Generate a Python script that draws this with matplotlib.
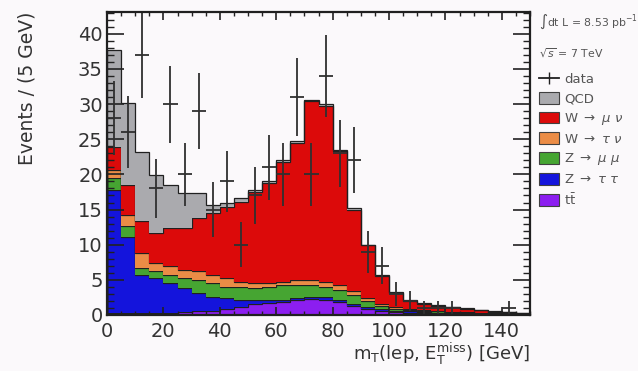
import numpy as np
import matplotlib.pyplot as plt
from matplotlib.patches import Patch
from matplotlib.lines import Line2D
from matplotlib.ticker import MultipleLocator

# 5 GeV bins from 0 to 150
edges = np.arange(0, 155, 5)
centers = edges[:-1] + 2.5

# per-process contributions
ttbar = [0.3, 0.3, 0.3, 0.3, 0.3, 0.4, 0.5, 0.6, 0.8, 1.2, 1.5, 1.7, 1.9, 2.1, 2.3,
         2.2, 1.8, 1.3, 0.9, 0.6, 0.4, 0.35, 0.3, 0.25, 0.2, 0.15, 0.1, 0.1, 0.08, 0.05]
ztautau = [17.5, 10.8, 5.4, 4.9, 4.2, 3.4, 2.6, 2.0, 1.6, 0.9, 0.6, 0.4, 0.3, 0.3, 0.3,
           0.3, 0.3, 0.3, 0.2, 0.2, 0.2, 0.15, 0.1, 0.1, 0.1, 0.1, 0.1, 0.05, 0.04, 0.05]
zmumu = [1.7, 1.5, 1.0, 1.0, 1.2, 1.4, 1.9, 1.9, 1.6, 1.9, 1.8, 1.9, 2.1, 1.9, 1.7,
         1.5, 1.5, 1.3, 0.9, 0.5, 0.3, 0.2, 0.15, 0.15, 0.1, 0.1, 0.1, 0.1, 0.08, 0.05]
wtaunu = [1.1, 1.6, 2.1, 1.2, 1.2, 1.2, 1.2, 1.2, 1.2, 0.7, 0.6, 0.5, 0.4, 0.7, 0.7,
          0.7, 0.6, 0.5, 0.4, 0.3, 0.2, 0.1, 0.1, 0.05, 0.05, 0.05, 0.05, 0.05, 0.02, 0.03]
wmunu = [3.3, 4.3, 4.5, 4.3, 5.5, 6.0, 7.6, 8.8, 10.2, 11.4, 13.0, 14.3, 17.1, 19.5, 25.4,
         25.1, 19.1, 11.6, 7.5, 4.0, 2.1, 1.2, 0.95, 0.8, 0.7, 0.5, 0.3, 0.18, 0.16, 0.1]
qcd = [13.8, 11.6, 9.9, 8.2, 6.1, 4.9, 3.5, 1.1, 0.5, 0.5, 0.3, 0.2, 0.2, 0.2, 0.2,
       0.2, 0.2, 0.2, 0.1, 0.1, 0.1, 0.1, 0.1, 0.05, 0.05, 0.05, 0.05, 0.02, 0.02, 0.02]

data = [28, 26, 37, 18, 30, 20, 29, 15, 19, 10, 17, 21, 20, 31, 20,
        34, 23, 22, 9, 7, 3, 2, 1, 1, 1, 0, 0, 0, 1, 0]

# stacking order bottom -> top
layers = [ttbar, ztautau, zmumu, wtaunu, wmunu, qcd]
colors = ['#8c1ef0', '#1414dc', '#46a532', '#eb8c46', '#dc0a0a', '#aaaaae']
labels = ['QCD', r'W $\rightarrow$ $\mu$ $\nu$', r'W $\rightarrow$ $\tau$ $\nu$',
          r'Z $\rightarrow$ $\mu$ $\mu$', r'Z $\rightarrow$ $\tau$ $\tau$', r't$\bar{\rm t}$']

fig = plt.figure(figsize=(6.38, 3.71), dpi=100, facecolor='#fbf9fb')
ax = fig.add_axes([107/638, 1-315/371, 423/638, 303/371])
ax.set_facecolor('#fbf9fb')

bottom = np.zeros(len(centers))
for vals, col in zip(layers, colors):
    top = bottom + np.array(vals)
    ax.stairs(top, edges, baseline=bottom, fill=True, color=col, lw=0)
    ax.stairs(top, edges, color='#202020', lw=0.9)
    bottom = top

d = np.array(data, dtype=float)
m = d > 0
ax.errorbar(centers[m], d[m], yerr=np.sqrt(d[m]), xerr=2.5, fmt='none',
            ecolor='#303030', elinewidth=1.3, capsize=0)

ax.set_xlim(0, 150)
ax.set_ylim(0, 43.1)
ax.xaxis.set_major_locator(MultipleLocator(20))
ax.xaxis.set_minor_locator(MultipleLocator(5))
ax.yaxis.set_major_locator(MultipleLocator(5))
ax.yaxis.set_minor_locator(MultipleLocator(1))
ax.tick_params(which='both', direction='in', top=True, right=True,
               labelsize=14, colors='#222222', labelcolor='#333333')
ax.tick_params(axis='y', which='major', length=12, width=1.2, pad=3)
ax.tick_params(axis='y', which='minor', length=5, width=1.0)
ax.tick_params(axis='x', which='major', length=6, width=1.2, pad=5)
ax.tick_params(axis='x', which='minor', length=3, width=1.0)
for s in ax.spines.values():
    s.set_linewidth(1.6)
    s.set_color('#202020')

ax.set_xlabel(r'm$_{\rm T}$(lep, E$_{\rm T}^{\rm miss}$) [GeV]', fontsize=13,
              color='#333333', loc='right', labelpad=0)
ax.set_ylabel('Events / (5 GeV)', fontsize=13.5, color='#333333', loc='top', labelpad=30)

fig.text(539/638, 1-22/371, r'$\int$dt L = 8.53 pb$^{-1}$', fontsize=7.8,
         color='#555555', va='center')
fig.text(539/638, 1-53/371, r'$\sqrt{s}$ = 7 TeV', fontsize=7.8,
         color='#555555', va='center')

handles = [Line2D([], [], color='#202020', marker='|', markersize=8, lw=1.3)]
leg_colors = colors[::-1]
for col in leg_colors:
    handles.append(Patch(facecolor=col, edgecolor='#404040', lw=0.8))
leg = ax.legend(handles, ['data'] + labels, loc='upper left',
                bbox_to_anchor=(539/638, 1-73/371), bbox_transform=fig.transFigure,
                frameon=False, fontsize=9.5, labelspacing=0.42, handlelength=1.5,
                handleheight=1.0, handletextpad=0.4, borderaxespad=0, borderpad=0)
for t in leg.get_texts():
    t.set_color('#555555')

fig.savefig('out.png', dpi=100, facecolor=fig.get_facecolor())
